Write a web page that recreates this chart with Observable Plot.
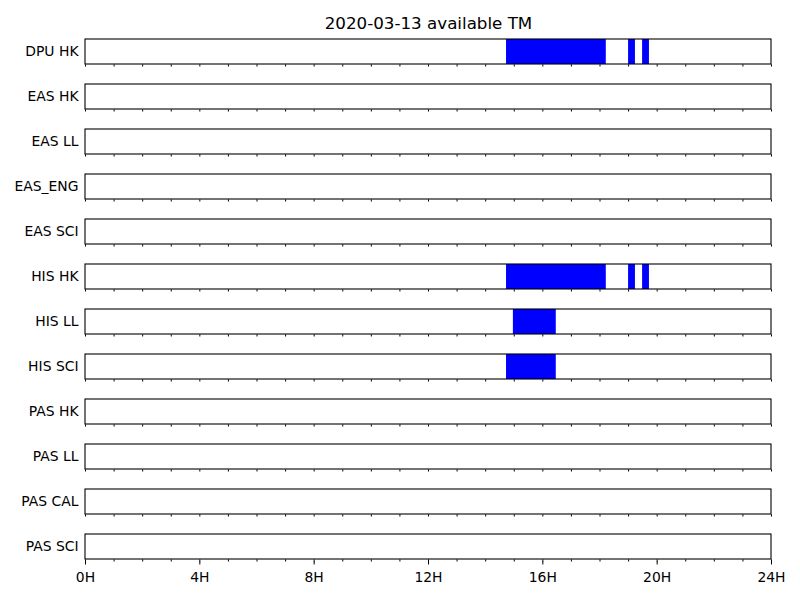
<!DOCTYPE html>
<html>
<head>
<meta charset="utf-8">
<script src="https://cdn.jsdelivr.net/npm/d3@7"></script>
<script src="https://cdn.jsdelivr.net/npm/@observablehq/plot@0.6"></script>
<style>
body { margin: 0; background: white; }
#chart svg { font-family: "DejaVu Sans", sans-serif; }
</style>
</head>
<body>
<div id="chart"></div>
<script>
const title = "2020-03-13 available TM";
const rows = ["DPU HK","EAS HK","EAS LL","EAS_ENG","EAS SCI","HIS HK","HIS LL","HIS SCI","PAS HK","PAS LL","PAS CAL","PAS SCI"];
const intervalRow   = ["DPU HK","DPU HK","DPU HK","HIS HK","HIS HK","HIS HK","HIS LL","HIS SCI"];
const intervalStart = [14.73, 19.00, 19.49, 14.73, 19.00, 19.49, 14.97, 14.73];
const intervalEnd   = [18.22, 19.24, 19.73, 18.22, 19.24, 19.73, 16.47, 16.47];
const hourDomain = [0, 24];
const hours = d3.range(0, 25);
const majorHours = [0, 4, 8, 12, 16, 20, 24];

const W = 800, H = 600;
const mTop = 37, mBottom = 39, mLeft = 85, mRight = 29;
const pad = 0.44;
const rangeH = H - mTop - mBottom;
const step = rangeH / (rows.length - pad);
const bw = step * (1 - pad);

const intervals = intervalRow.map((r, i) => ({row: r, start: intervalStart[i], end: intervalEnd[i]}));
const frames = rows.map(r => ({row: r, start: hourDomain[0], end: hourDomain[1]}));
const tickData = rows.flatMap(r => hours.map(h => ({row: r, hour: h})));

const chart = Plot.plot({
  width: W, height: H,
  marginTop: mTop, marginBottom: mBottom, marginLeft: mLeft, marginRight: mRight,
  style: {fontFamily: "DejaVu Sans, sans-serif", fontSize: "13.9px", color: "black", background: "white"},
  x: {domain: hourDomain, ticks: majorHours, tickFormat: d => d + "H", tickSize: 3.5, tickPadding: 7.5, label: null},
  y: {domain: rows, type: "band", paddingInner: pad, paddingOuter: 0, tickSize: 0, tickPadding: 7, label: null},
  marks: [
    Plot.barX(intervals, {x1: "start", x2: "end", y: "row", fill: "blue"}),
    Plot.barX(frames, {x1: "start", x2: "end", y: "row", fill: "none", stroke: "black", strokeWidth: 1.1}),
    Plot.tickX(tickData, {x: "hour", y: "row", insetTop: bw, insetBottom: -2.5, stroke: "black", strokeWidth: 1}),
    Plot.text([title], {frameAnchor: "top", dy: -20, fontSize: 16.7, fill: "black", text: d => d})
  ]
});
chart.querySelectorAll("text").forEach(t => t.setAttribute("fill", "black"));
document.getElementById("chart").appendChild(chart);
</script>
</body>
</html>
